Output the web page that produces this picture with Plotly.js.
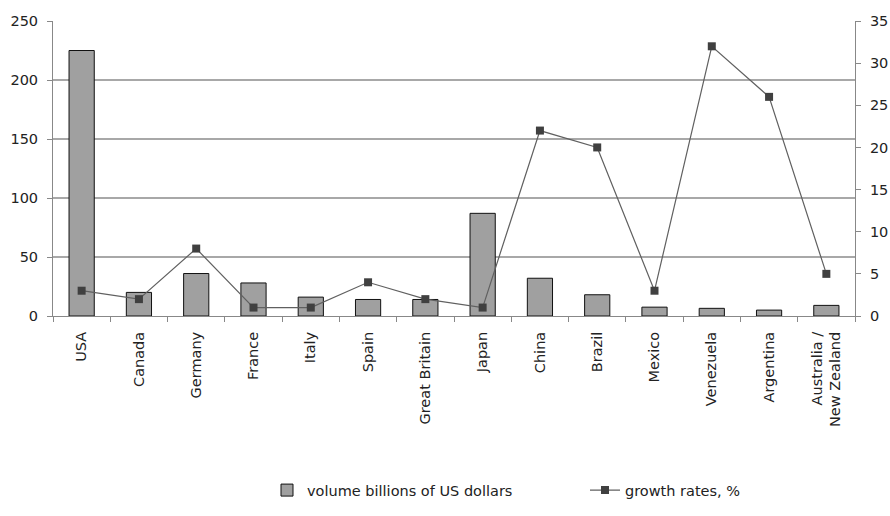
<!DOCTYPE html>
<html>
<head>
<meta charset="utf-8">
<script src="https://cdn.plot.ly/plotly-3.0.1.min.js"></script>
<style>html,body{margin:0;padding:0;background:#fff;}#chart{width:890px;height:516px;}</style>
</head>
<body>
<div id="chart"></div>
<script>
var categories = ["USA", "Canada", "Germany", "France", "Italy", "Spain", "Great Britain", "Japan", "China", "Brazil", "Mexico", "Venezuela", "Argentina", "Australia /<br>New Zealand"];
var volume = [225, 20, 36, 28, 16, 14, 14, 87, 32, 18, 7.5, 6.5, 5, 9];
var growth = [3, 2, 8, 1, 1, 4, 2, 1, 22, 20, 3, 32, 26, 5];
var leftTicks = [0, 50, 100, 150, 200, 250];
var rightTicks = [0, 5, 10, 15, 20, 25, 30, 35];

var font = {family: "DejaVu Sans, Verdana, sans-serif", size: 14.5, color: "#222"};

var data = [
  {
    type: "bar", x: categories, y: volume, name: "volume billions of US dollars",
    marker: {color: "#a0a0a0", line: {color: "#111", width: 1}},
    width: 0.44, yaxis: "y", legend: "legend"
  },
  {
    type: "scatter", mode: "lines+markers", x: categories, y: growth, name: "growth rates, %",
    line: {color: "#606060", width: 1.2},
    marker: {symbol: "square", size: 8, color: "#404040"},
    yaxis: "y2", legend: "legend2"
  }
];

var legFont = {family: font.family, size: 14.5, color: "#222"};

var layout = {
  width: 890, height: 516,
  margin: {l: 53, r: 35, t: 21, b: 199},
  paper_bgcolor: "#fff", plot_bgcolor: "#fff",
  font: font,
  showlegend: true,
  legend: {orientation: "h", x: (267 - 53) / 802, xanchor: "left", y: -0.585, yanchor: "middle", font: legFont},
  legend2: {orientation: "h", x: (585 - 53) / 802, xanchor: "left", y: -0.585, yanchor: "middle", font: legFont},
  bargap: 0.56,
  xaxis: {
    type: "category", range: [-0.5, categories.length - 0.5],
    tickson: "boundaries", ticks: "outside", ticklen: 5, tickcolor: "#888",
    showline: true, linecolor: "#888", linewidth: 1, showgrid: false,
    tickangle: -90, tickfont: font, ticklabelstandoff: 9, automargin: false
  },
  yaxis: {
    range: [0, 250], tickvals: leftTicks, ticktext: leftTicks.map(String),
    showgrid: true, gridcolor: "#a8a8a8", gridwidth: 1.3,
    showline: true, linecolor: "#888", ticks: "outside", ticklen: 5, tickcolor: "#888",
    ticklabelstandoff: 6,
    zeroline: false, tickfont: font, automargin: false
  },
  yaxis2: {
    range: [0, 35], tickvals: rightTicks, ticktext: rightTicks.map(String),
    overlaying: "y", side: "right", showgrid: false,
    showline: true, linecolor: "#888", ticks: "outside", ticklen: 5, tickcolor: "#888",
    ticklabelstandoff: 6,
    zeroline: false, tickfont: font, automargin: false
  }
};

Plotly.newPlot("chart", data, layout, {displayModeBar: false, staticPlot: true});
</script>
</body>
</html>
